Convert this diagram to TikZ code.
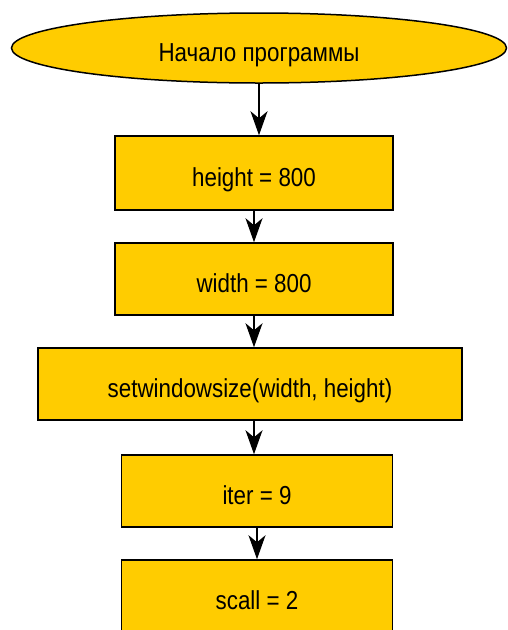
\documentclass[tikz,border=0pt]{standalone}
\usepackage{fontspec}
\setmainfont[FakeStretch=0.86]{Liberation Sans}
\usetikzlibrary{shapes.geometric,arrows.meta}
\definecolor{blockfill}{HTML}{FFCC00}
\begin{document}
\begin{tikzpicture}[x=1pt,y=-1pt,
  label text/.style={font=\fontsize{26}{30}\selectfont,text height=27pt,text depth=0pt},
  block/.style={draw=black,line width=1.5pt,fill=blockfill,inner sep=0pt,
    minimum height=72pt,label text},
  startend/.style={ellipse,draw=black,line width=1.5pt,fill=blockfill,inner sep=0pt,
    minimum width=495pt,minimum height=70pt,label text},
  flow/.style={draw=black,line width=1.4pt,
    -{Stealth[length=24pt,width=17pt,inset=7pt]}}]
  \useasboundingbox (0,0) rectangle (507,630);
  \begin{scope}
  \clip (0,0) rectangle (507,630);
  \node[startend] (start) at (259,48) {Начало программы};
  \node[block,minimum width=278pt,minimum height=74pt] (h) at (254,173) {height = 800};
  \node[block,minimum width=278pt] (w) at (254,279) {width = 800};
  \node[block,minimum width=424pt] (sws) at (250,384) {setwindowsize(width, height)};
  \node[block,minimum width=271pt] (it) at (257,491) {iter = 9};
  \node[block,minimum width=271pt] (sc) at (257,596) {scall = 2};
  \draw[flow] (start) -- (start |- h.north);
  \draw[flow] (h) -- (w);
  \draw[flow] (w) -- (sws.north -| w);
  \draw[flow] (sws.south -| w) -- (it.north -| w);
  \draw[flow] (it) -- (sc);
  \end{scope}
\end{tikzpicture}
\end{document}
